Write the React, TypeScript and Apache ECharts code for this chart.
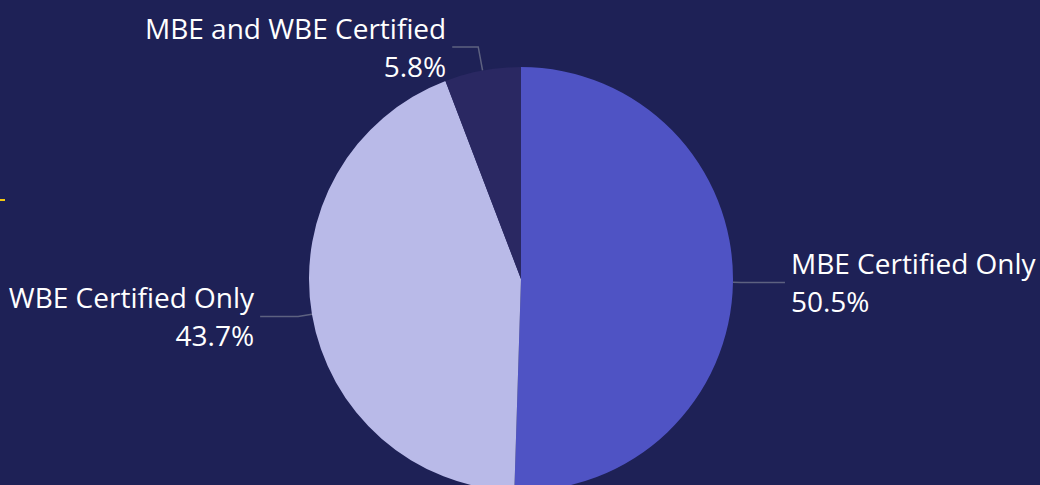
import React, { useEffect, useRef } from "react";
import * as echarts from "echarts";

const categories = ["MBE Certified Only", "WBE Certified Only", "MBE and WBE Certified"];
const values = [50.5, 43.7, 5.8];
const colors = ["#4f53c4", "#b9bae8", "#2a2862"];
const lineLengths = [
  [8, 44],
  [14, 38],
  [24, 26],
];

export default function App() {
  const ref = useRef<HTMLDivElement>(null);
  useEffect(() => {
    document.body.style.margin = "0";
    const chart = echarts.init(ref.current!, null, { renderer: "svg" });
    chart.setOption({
      animation: false,
      backgroundColor: "#1e2156",
      graphic: [
        {
          type: "rect",
          shape: { x: 0, y: 199, width: 5, height: 2 },
          style: { fill: "#f2c811" },
        },
      ],
      series: [
        {
          type: "pie",
          center: [521, 279],
          radius: 212,
          startAngle: 90,
          clockwise: true,
          avoidLabelOverlap: false,
          data: categories.map((name, i) => ({
            name,
            value: values[i],
            itemStyle: { color: colors[i] },
            labelLine: { length: lineLengths[i][0], length2: lineLengths[i][1] },
          })),
          label: {
            show: true,
            color: "#ffffff",
            fontFamily: "'Open Sans', 'Noto Sans', sans-serif",
            fontSize: 28,
            lineHeight: 38,
            formatter: (p: any) => `${p.name}\n${p.value.toFixed(1)}%`,
            distanceToLabelLine: 6,
          },
          labelLine: {
            show: true,
            lineStyle: { color: "#5d6180", width: 1.5 },
          },
          itemStyle: { borderWidth: 0 },
          emphasis: { disabled: true },
        },
      ],
    });
    return () => chart.dispose();
  }, []);
  return (
    <div
      ref={ref}
      style={{ position: "fixed", left: 0, top: 0, width: 1040, height: 485 }}
    />
  );
}
